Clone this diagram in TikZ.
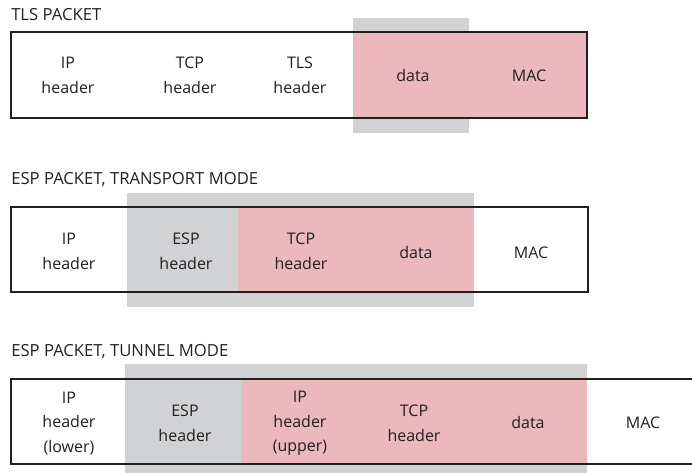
\documentclass[tikz,border=0pt]{standalone}
\usepackage{fontspec}
\setmainfont{Open Sans}
\definecolor{encgray}{HTML}{D1D2D4}
\definecolor{authpink}{HTML}{EBB9BC}
\definecolor{lineink}{HTML}{231F20}
\definecolor{txtink}{HTML}{231F20}
\tikzset{
  frame/.style={draw=lineink, line width=0.9pt},
  encarea/.style={fill=encgray, draw=none},
  autharea/.style={fill=authpink, draw=none},
  field/.style={align=center, text=txtink, font=\fontsize{12}{18.5}\selectfont, inner sep=0pt},
  paneltitle/.style={anchor=west, text=txtink, font=\fontsize{12.5}{14}\selectfont, inner sep=0pt}
}
\begin{document}
\begin{tikzpicture}[x=0.75pt,y=-0.75pt]
\useasboundingbox (0,0) rectangle (692,473);
% ---------- TLS packet ----------
\node[paneltitle] (t1) at (11,15) {TLS PACKET};
\fill[encarea] (353,18) rectangle (469,133);
\fill[autharea] (353,32) rectangle (587,118);
\draw[frame] (11,32) rectangle (587,118);
\node[field] (a1) at (68,75.5) {IP\\header};
\node[field] (a2) at (190,75.5) {TCP\\header};
\node[field] (a3) at (300,75.5) {TLS\\header};
\node[field] (a4) at (413,75.5) {data};
\node[field] (a5) at (529,75.5) {MAC};
% ---------- ESP transport ----------
\node[paneltitle] (t2) at (11,180) {ESP PACKET, TRANSPORT MODE};
\fill[encarea] (127,193) rectangle (474,307);
\fill[autharea] (238,207) rectangle (474,292);
\draw[frame] (11,207) rectangle (588,292);
\node[field] (b1) at (69,251.5) {IP\\header};
\node[field] (b2) at (186,251.5) {ESP\\header};
\node[field] (b3) at (301,251.5) {TCP\\header};
\node[field] (b4) at (416,252.5) {data};
\node[field] (b5) at (531,252.5) {MAC};
% ---------- ESP tunnel ----------
\node[paneltitle] (t3) at (11,352) {ESP PACKET, TUNNEL MODE};
\fill[encarea] (125,364) rectangle (587,473);
\fill[autharea] (241,379) rectangle (587,464);
\draw[frame] (693,379) -- (11,379) -- (11,464) -- (693,464);
\node[field] (c1) at (69,423.5) {IP\\header\\(lower)};
\node[field] (c2) at (185,423) {ESP\\header};
\node[field] (c3) at (300,423.5) {IP\\header\\(upper)};
\node[field] (c4) at (414,423) {TCP\\header};
\node[field] (c5) at (528,423) {data};
\node[field] (c6) at (643,423) {MAC};
\end{tikzpicture}
\end{document}
